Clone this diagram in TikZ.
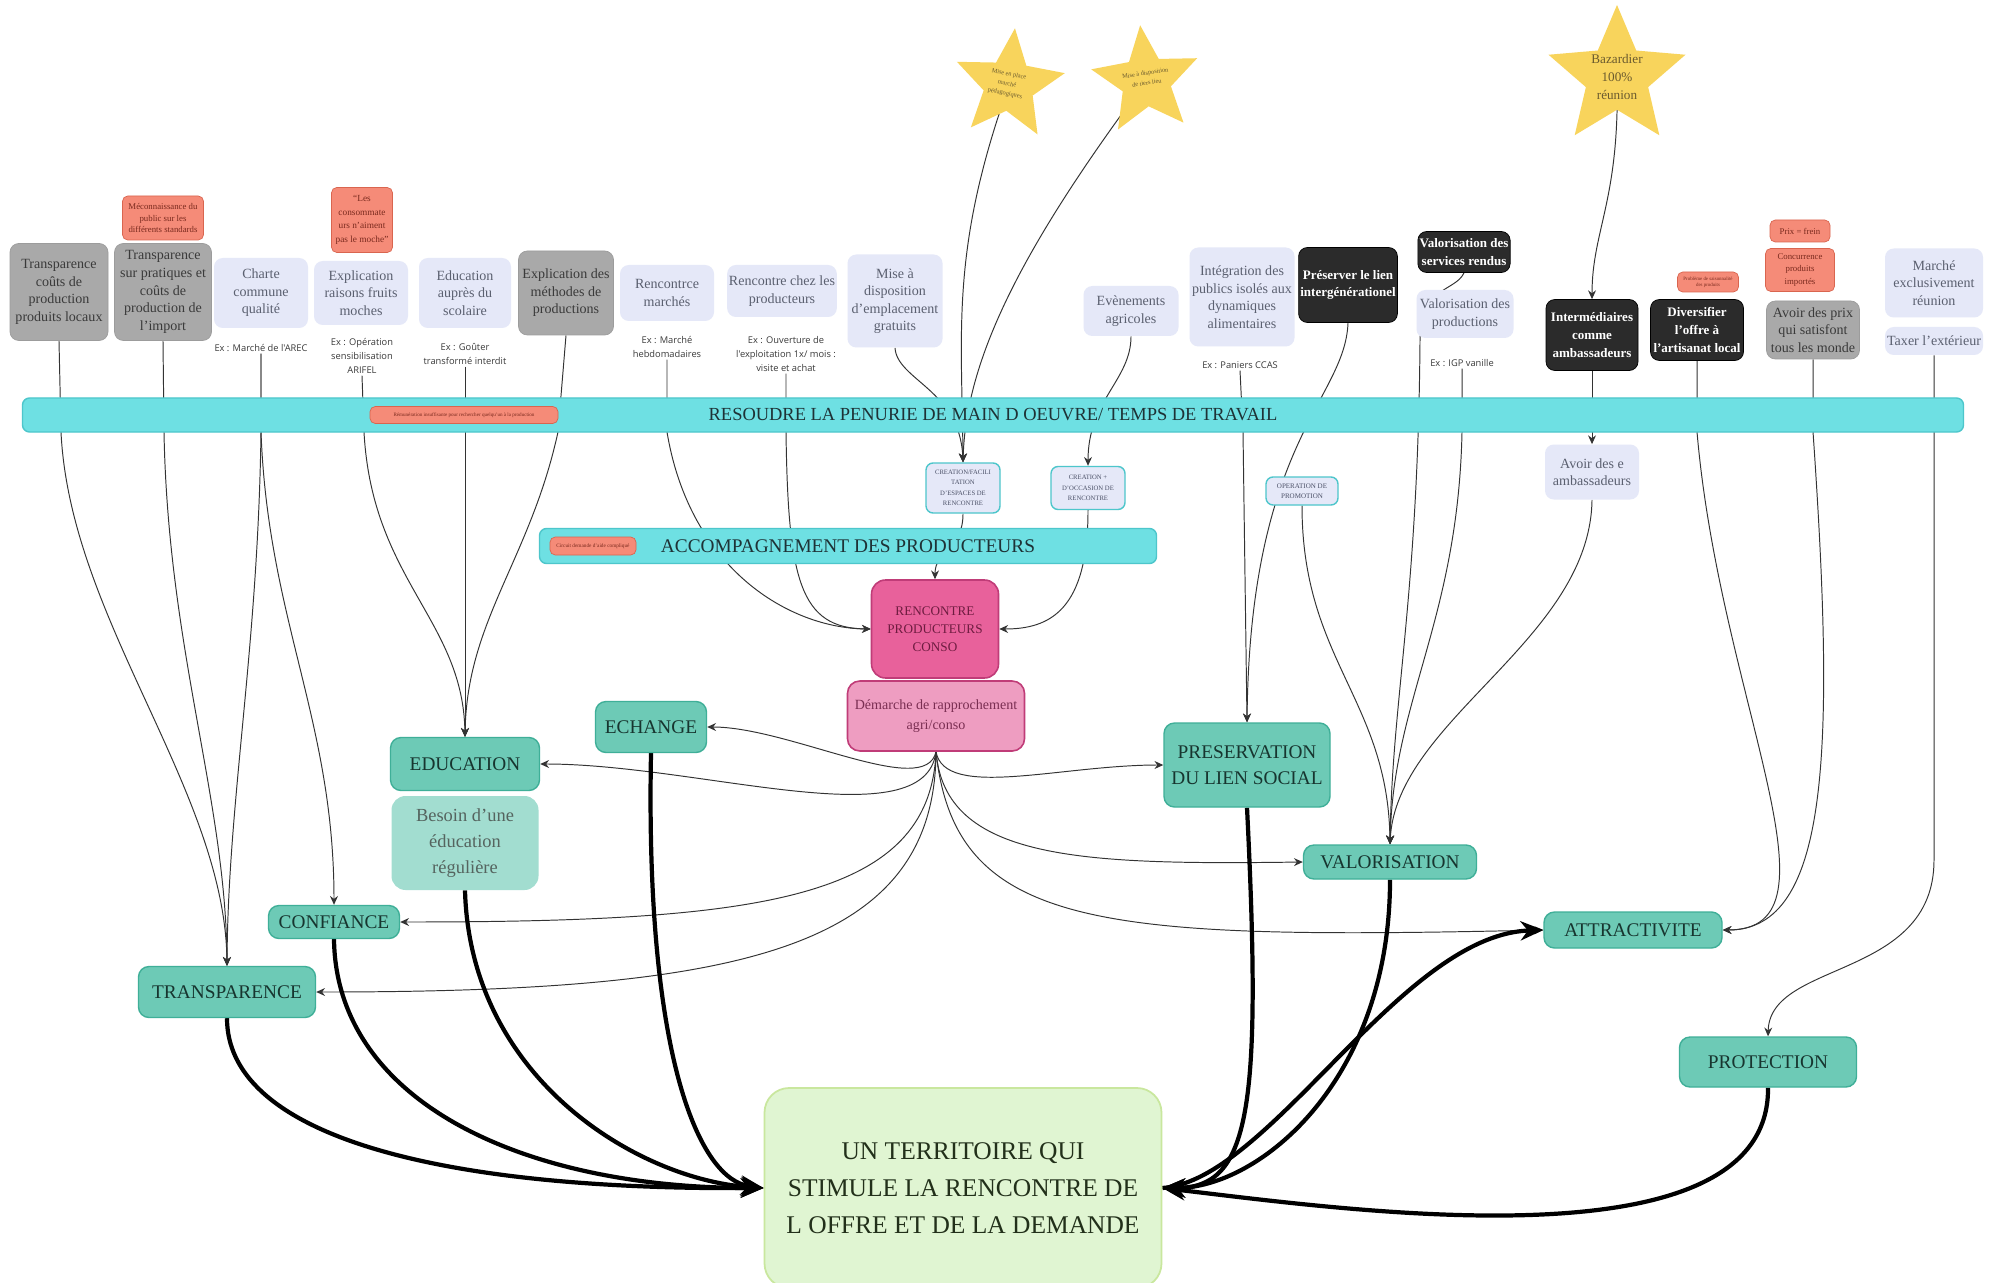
\documentclass[tikz,border=0pt]{standalone}
\usepackage{fontspec}
\setmainfont{Liberation Serif}
\newfontfamily\exfont{Open Sans}
\usetikzlibrary{shapes.geometric,arrows.meta}
\pgfdeclarelayer{back}
\pgfdeclarelayer{bg}
\pgfsetlayers{back,bg,main}
\definecolor{grayf}{HTML}{A9A9A9}
\definecolor{grayd}{HTML}{9C9C9C}
\definecolor{grayt}{HTML}{3A3A3A}
\definecolor{lavf}{HTML}{E5E8F8}
\definecolor{lavt}{HTML}{5B6070}
\definecolor{redf}{HTML}{F58B78}
\definecolor{redd}{HTML}{D9654F}
\definecolor{redt}{HTML}{7A2A1E}
\definecolor{blkf}{HTML}{2B2B2B}
\definecolor{ext}{HTML}{3A3A3A}
\definecolor{bandf}{HTML}{6EE0E3}
\definecolor{bandd}{HTML}{4DC6CB}
\definecolor{bandt}{HTML}{1E3236}
\definecolor{cret}{HTML}{4A4F66}
\definecolor{tealf}{HTML}{6DCAB6}
\definecolor{teald}{HTML}{3FAF98}
\definecolor{tealt}{HTML}{17352F}
\definecolor{besf}{HTML}{A2DDD0}
\definecolor{best}{HTML}{55645F}
\definecolor{rpcf}{HTML}{E8619B}
\definecolor{rpcd}{HTML}{C03C78}
\definecolor{rpct}{HTML}{6E1C40}
\definecolor{demf}{HTML}{EE9DC1}
\definecolor{demt}{HTML}{7A2E52}
\definecolor{finf}{HTML}{E0F5D2}
\definecolor{find}{HTML}{C9E79E}
\definecolor{fint}{HTML}{22301A}
\definecolor{starf}{HTML}{F8D45C}
\definecolor{start}{HTML}{6A5A2E}
\definecolor{linec}{HTML}{333333}
\begin{document}
\begin{tikzpicture}[x=0.02cm,y=-0.02cm,
  sz/.style 2 args={minimum width=#1*0.02cm, minimum height=#2*0.02cm},
  topn/.style={rounded corners=5pt, align=center, inner sep=1pt},
  grn/.style={topn, fill=grayf, draw=grayd, text=grayt, font=\fontsize{8}{10}\selectfont},
  lav/.style={topn, fill=lavf, text=lavt, font=\fontsize{8}{10}\selectfont},
  redn/.style={rounded corners=3pt, align=center, inner sep=0.5pt, fill=redf, draw=redd, text=redt, line width=0.4pt},
  blk/.style={topn, fill=blkf, draw=black, text=white, font=\bfseries\fontsize{7.4}{10}\selectfont},
  extxt/.style={align=center, inner sep=1pt, text=ext, font=\exfont\fontsize{5.3}{8}\selectfont},
  band/.style={rounded corners=4pt, fill=bandf, draw=bandd, line width=0.8pt, text=bandt},
  cre/.style={rounded corners=4pt, align=center, fill=lavf, draw=bandd, line width=0.8pt, text=cret, inner sep=0.5pt, font=\fontsize{3.8}{6}\selectfont},
  teal/.style={rounded corners=6pt, align=center, fill=tealf, draw=teald, line width=0.8pt, text=tealt, font=\fontsize{11}{14.5}\selectfont, inner sep=1pt},
  starn/.style={star, star points=5, star point ratio=2.2, fill=starf, draw=none, inner sep=0pt},
  startxt/.style={align=center, text=start, inner sep=0pt},
  conn/.style={line width=0.55pt, draw=linec, -{Stealth[length=5pt,width=4.5pt]}},
  bigarr/.style={line width=2.4pt, draw=black, -{Stealth[length=13pt,width=11pt]}}
]
\begin{pgfonlayer}{back}
\fill[white] (0,0) rectangle (1993,1283);
\end{pgfonlayer}
\useasboundingbox (0,0) rectangle (1993,1283);

% ---- top row ----
\node[grn, sz={98}{97}] (g1) at (59,292) {Transparence\\coûts de\\production\\produits locaux};
\node[redn, sz={81}{44}, font=\fontsize{5}{6.5}\selectfont] (r1) at (163,218) {Méconnaissance du\\public sur les\\différents standards};
\node[grn, sz={97}{97}] (g2) at (163,292) {Transparence\\sur pratiques et\\coûts de\\production de\\l'import};
\node[lav, sz={94}{70}] (l1) at (261,293) {Charte\\commune\\qualité};
\node[extxt] (ex1) at (261,348) {Ex : Marché de l'AREC};
\node[redn, sz={61}{65}, font=\fontsize{5.3}{7.8}\selectfont] (r2) at (362,220) {``Les\\consommate\\urs n'aiment\\pas le moche''};
\node[lav, sz={94}{64}] (l2) at (361,293) {Explication\\raisons fruits\\moches};
\node[extxt] (ex2) at (362,356) {Ex : Opération\\sensibilisation\\ARIFEL};
\node[lav, sz={92}{70}] (l3) at (465,293) {Education\\auprès du\\scolaire};
\node[extxt] (ex3) at (465,354) {Ex : Goûter\\transformé interdit};
\node[grn, sz={95}{84}] (g3) at (566,293) {Explication des\\méthodes de\\productions};
\node[lav, sz={94}{56}] (l4) at (667,293) {Rencontrce\\marchés};
\node[extxt] (ex4) at (667,347) {Ex : Marché\\hebdomadaires};
\node[lav, sz={109}{52}] (l5) at (782,291) {Rencontre chez les\\producteurs};
\node[extxt] (ex5) at (786,354) {Ex : Ouverture de\\l'exploitation 1x/ mois :\\visite et achat};
\node[lav, sz={95}{93}] (l6) at (895,301) {Mise à\\disposition\\d'emplacement\\gratuits};
\node[lav, sz={95}{50}] (l7) at (1131,311) {Evènements\\agricoles};
\node[lav, sz={105}{99}] (l8) at (1242,297) {Intégration des\\publics isolés aux\\dynamiques\\alimentaires};
\node[extxt] (ex6) at (1240,365) {Ex : Paniers CCAS};
\node[blk, sz={98}{75}] (b1) at (1348,285) {Préserver le lien\\intergénérationel};
\node[blk, sz={92}{41}] (b2) at (1464,252) {Valorisation des\\services rendus};
\node[lav, sz={97}{48}] (l9) at (1465,314) {Valorisation des\\productions};
\node[extxt] (ex7) at (1462,363) {Ex : IGP vanille};
\node[blk, sz={92}{71}] (b3) at (1592,335) {Intermédiaires\\comme\\ambassadeurs};
\node[redn, sz={61}{20}, font=\fontsize{2.8}{3.6}\selectfont] (r3) at (1708,282) {Problème de saisonnalité\\des produits};
\node[blk, sz={93}{61}] (b4) at (1697,330) {Diversifier\\l'offre à\\l'artisanat local};
\node[redn, sz={60}{22}, font=\fontsize{5}{6.5}\selectfont] (r4) at (1800,231) {Prix = frein};
\node[redn, sz={69}{43}, font=\fontsize{5}{7}\selectfont] (r5) at (1800,270) {Concurrence\\produits\\importés};
\node[grn, sz={93}{58}] (g4) at (1813,330) {Avoir des prix\\qui satisfont\\tous les monde};
\node[lav, sz={98}{69}] (l10) at (1934,283) {Marché\\exclusivement\\réunion};
\node[lav, sz={98}{28}] (l11) at (1934,341) {Taxer l'extérieur};

% ---- stars ----
\node[starn, minimum size=2*57*0.02cm, shape border rotate=-6] (s1) at (1009,85) {};
\node[startxt, rotate=-12, font=\fontsize{3.6}{5.6}\selectfont] (s1t) at (1007,84) {Mise en place\\marché\\pédagogiques};
\node[starn, minimum size=2*56*0.02cm, shape border rotate=6] (s2) at (1146,81) {};
\node[startxt, rotate=9, font=\fontsize{3.6}{5.6}\selectfont] (s2t) at (1146,78) {Mise à disposition\\de tiers lieu};
\node[starn, minimum size=2*72*0.02cm] (s3) at (1617,77) {};
\node[startxt, font=\fontsize{7.5}{10.5}\selectfont] (s3t) at (1617,77) {Bazardier\\100\%\\réunion};

% ---- bands ----
\node[band, sz={1941}{34}, font=\fontsize{10.5}{12}\selectfont] (band1) at (993,415) {RESOUDRE LA PENURIE DE MAIN D OEUVRE/ TEMPS DE TRAVAIL};
\node[redn, sz={188}{17}, font=\fontsize{2.9}{3.5}\selectfont] (r6) at (464,415) {Rémunération insuffisante pour rechercher quelqu'un à la production};
\node[cre, sz={74}{50}] (c1) at (963,488) {CREATION/FACILI\\TATION\\D'ESPACES DE\\RENCONTRE};
\node[cre, sz={74}{43}] (c2) at (1088,488) {CREATION +\\D'OCCASION DE\\RENCONTRE};
\node[cre, sz={72}{28}, font=\fontsize{4}{6}\selectfont] (c3) at (1302,491) {OPERATION DE\\PROMOTION};
\node[lav, sz={94}{55}] (l12) at (1592,472) {Avoir des e\\ambassadeurs};
\node[band, sz={617}{35}, font=\fontsize{11}{13}\selectfont] (band2) at (848,546) {ACCOMPAGNEMENT DES PRODUCTEURS};
\node[redn, sz={86}{18}, font=\fontsize{3}{3.6}\selectfont] (r7) at (593,546) {Circuit demande d'aide compliqué};

% ---- centre ----
\node[rounded corners=8pt, align=center, fill=rpcf, draw=rpcd, line width=0.9pt, text=rpct, sz={127}{98}, font=\fontsize{7.5}{10.4}\selectfont] (rpc) at (935,629) {RENCONTRE\\PRODUCTEURS\\CONSO};
\node[rounded corners=7pt, align=center, fill=demf, draw=rpcd, line width=0.9pt, text=demt, sz={177}{70}, font=\fontsize{8}{11}\selectfont] (dem) at (936,716) {Démarche de rapprochement\\agri/conso};

\node[teal, sz={111}{51}] (ech) at (651,727) {ECHANGE};
\node[teal, sz={149}{53}] (edu) at (465,764) {EDUCATION};
\node[rounded corners=8pt, align=center, fill=besf, text=best, sz={147}{94}, font=\fontsize{10.5}{15}\selectfont] (bes) at (465,843) {Besoin d'une\\éducation\\régulière};
\node[teal, sz={131}{33}] (conf) at (334,922) {CONFIANCE};
\node[teal, sz={177}{51}] (trans) at (227,992) {TRANSPARENCE};
\node[teal, sz={166}{84}] (pres) at (1247,765) {PRESERVATION\\DU LIEN SOCIAL};
\node[teal, sz={173}{34}] (val) at (1390,862) {VALORISATION};
\node[teal, sz={178}{36}] (attr) at (1633,930) {ATTRACTIVITE};
\node[teal, sz={177}{50}] (prot) at (1768,1062) {PROTECTION};
\node[rounded corners=14pt, align=center, fill=finf, draw=find, line width=1pt, text=fint, sz={397}{200}, font=\fontsize{14.5}{21}\selectfont] (fin) at (963,1188) {UN TERRITOIRE QUI\\STIMULE LA RENCONTRE DE\\L OFFRE ET DE LA DEMANDE};

% ---- connectors ----
\begin{pgfonlayer}{bg}
\draw[conn] (g1.south) -- (61,432) .. controls (70,620) and (225,790) .. (trans.north);
\draw[conn] (g2.south) -- (164,432) .. controls (168,650) and (226,800) .. (trans.north);
\draw[conn] (ex1.south) -- (261,432) .. controls (258,650) and (228,800) .. (trans.north);
\draw[conn] (ex1.south) -- (261,432) .. controls (268,620) and (334,720) .. (conf.north);
\draw[conn] (ex2.south) -- (364,432) .. controls (372,580) and (463,620) .. (edu.north);
\draw[conn] (ex3.south) -- (edu.north);
\draw[conn] (g3.south) -- (558,432) .. controls (530,560) and (467,620) .. (edu.north);
\draw[conn] (ex4.south) -- (667,432) .. controls (690,570) and (790,628) .. (rpc.west);
\draw[conn] (ex5.south) -- (786,432) .. controls (788,580) and (800,628) .. (rpc.west);
\draw[conn] (l6.south) .. controls (897,380) and (960,390) .. (c1.north);
\draw[conn] (s1.center) .. controls (950,250) and (962,330) .. (c1.north);
\draw[conn] (s2.center) .. controls (1020,250) and (966,360) .. (c1.north);
\draw[conn] (l7.south) .. controls (1131,380) and (1088,400) .. (c2.north);
\draw[conn] (c1.south) .. controls (963,550) and (935,550) .. (rpc.north);
\draw[conn] (c2.south) .. controls (1088,610) and (1050,629) .. (rpc.east);
\draw[conn] (ex6.south) -- (1243,432) -- (pres.north);
\draw[conn] (b1.south) .. controls (1345,400) and (1250,440) .. (pres.north);
\draw[conn] (c3.south) .. controls (1302,660) and (1388,700) .. (val.north);
\draw[conn] (b2.south) .. controls (1455,292) and (1422,285) .. (1420,340) .. controls (1418,600) and (1392,700) .. (val.north);
\draw[conn] (ex7.south) -- (1462,432) .. controls (1458,620) and (1393,700) .. (val.north);
\draw[conn] (l12.south) .. controls (1590,640) and (1396,720) .. (val.north);
\draw[conn] (b3.south) -- (l12.north);
\draw[conn] (s3.center) .. controls (1620,200) and (1592,230) .. (b3.north);
\draw[conn] (b4.south) -- (1697,432) .. controls (1720,700) and (1850,930) .. (attr.east);
\draw[conn] (g4.south) -- (1813,432) .. controls (1835,750) and (1830,930) .. (attr.east);
\draw[conn] (l11.south) -- (1934,860) .. controls (1934,980) and (1770,960) .. (prot.north);
\draw[conn] (dem.south) .. controls (925,800) and (790,727) .. (ech.east);
\draw[conn] (dem.south) .. controls (925,840) and (700,764) .. (edu.east);
\draw[conn] (dem.south) .. controls (930,900) and (760,922) .. (conf.east);
\draw[conn] (dem.south) .. controls (935,950) and (740,992) .. (trans.east);
\draw[conn] (dem.south) .. controls (945,800) and (1060,765) .. (pres.west);
\draw[conn] (dem.south) .. controls (945,860) and (1080,865) .. (val.west);
\draw[conn] (dem.south) .. controls (955,930) and (1100,940) .. (attr.west);
\draw[bigarr] (trans.south) .. controls (227,1130) and (420,1190) .. (fin.west);
\draw[bigarr] (conf.south) .. controls (336,1100) and (520,1188) .. (fin.west);
\draw[bigarr] (bes.south) .. controls (470,1080) and (640,1180) .. (fin.west);
\draw[bigarr] (ech.south) .. controls (645,1060) and (700,1180) .. (fin.west);
\draw[bigarr] (pres.south) .. controls (1262,1110) and (1250,1188) .. (fin.east);
\draw[bigarr] (val.south) .. controls (1390,1080) and (1260,1188) .. (fin.east);
\draw[bigarr] (fin.east) .. controls (1270,1180) and (1400,935) .. (attr.west);
\draw[bigarr] (prot.south) .. controls (1770,1270) and (1350,1210) .. (fin.east);
\end{pgfonlayer}
\end{tikzpicture}
\end{document}
